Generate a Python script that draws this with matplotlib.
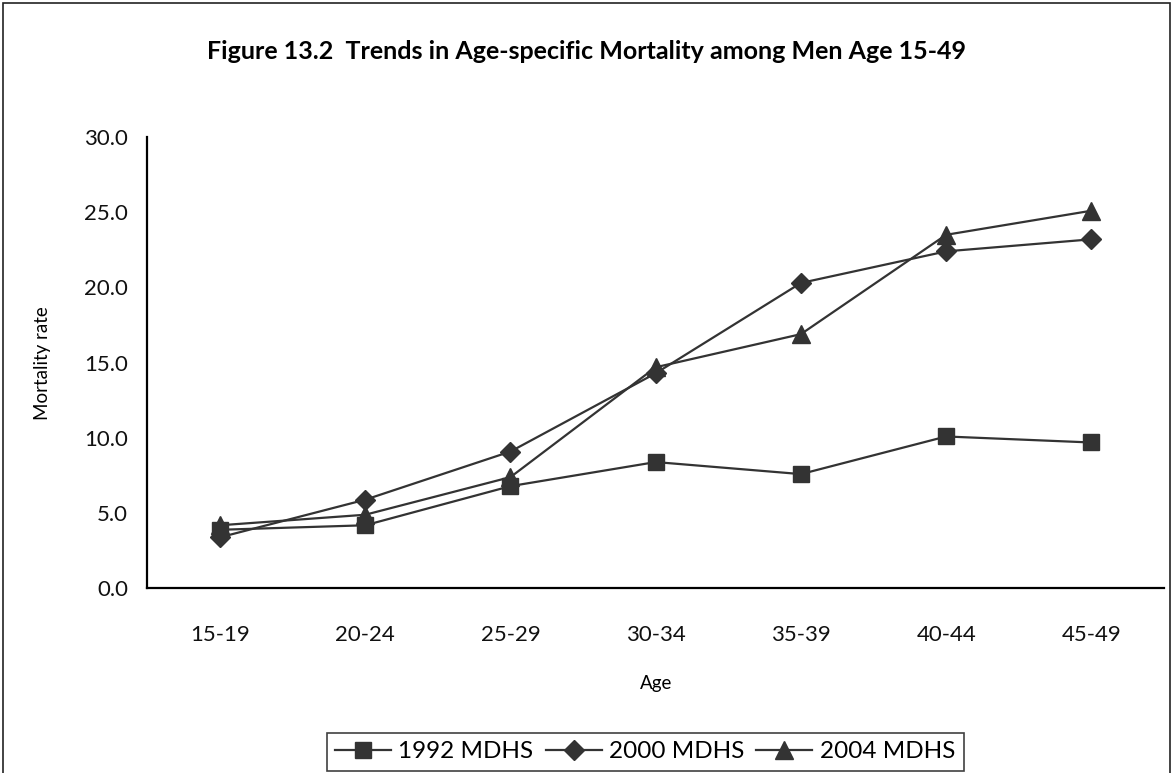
import matplotlib.pyplot as plt
from matplotlib.patches import Rectangle


# 年齡組別
age_groups = ["15-19", "20-24", "25-29", "30-34", "35-39", "40-44", "45-49"]

# 各次調查的死亡率
mdhs_1992 = [3.9, 4.2, 6.8, 8.4, 7.6, 10.1, 9.7]
mdhs_2000 = [3.4, 5.9, 9.1, 14.3, 20.3, 22.4, 23.2]
mdhs_2004 = [4.2, 4.9, 7.4, 14.7, 16.9, 23.5, 25.1]

y_ticks = [0, 5, 10, 15, 20, 25, 30]

TITLE = "Figure 13.2  Trends in Age-specific Mortality among Men Age 15-49"
LINE_COLOR = "#333333"


def plot_chart():
    plt.rcParams["font.family"] = ["Lato", "DejaVu Sans"]

    fig = plt.figure(figsize=(11.73, 7.73), dpi=100)

    # 外框
    frame = Rectangle((3 / 1173, -0.05), 1167 / 1173, 1.05 - 3 / 773,
                      transform=fig.transFigure, fill=False,
                      edgecolor="#222222", linewidth=1.2)
    fig.patches.append(frame)

    ax = fig.add_axes([0.1257, 0.2387, 0.8666, 0.5841])

    x = range(len(age_groups))
    ax.plot(x, mdhs_1992, color=LINE_COLOR, linewidth=1.6,
            marker="s", markersize=11, label="1992 MDHS")
    ax.plot(x, mdhs_2000, color=LINE_COLOR, linewidth=1.6,
            marker="D", markersize=10, label="2000 MDHS")
    ax.plot(x, mdhs_2004, color=LINE_COLOR, linewidth=1.6,
            marker="^", markersize=13, label="2004 MDHS")

    ax.set_xlim(-0.5, len(age_groups) - 0.5)
    ax.set_ylim(0, 30)
    ax.set_xticks(list(x))
    ax.set_xticklabels(age_groups)
    ax.set_yticks(y_ticks)
    ax.set_yticklabels([f"{v:.1f}" for v in y_ticks])
    ax.tick_params(length=0, labelsize=16, colors="#111111")
    ax.tick_params(axis="x", pad=26)
    ax.tick_params(axis="y", pad=14)

    ax.spines["top"].set_visible(False)
    ax.spines["right"].set_visible(False)
    ax.spines["left"].set_linewidth(1.6)
    ax.spines["bottom"].set_linewidth(1.6)

    ax.set_xlabel("Age", fontsize=13.5, labelpad=22)
    ax.set_ylabel("Mortality rate", fontsize=13.5, labelpad=24)

    fig.text(0.5, 0.934, TITLE, ha="center", va="center",
             fontsize=18, fontweight="bold")

    # 圖例
    leg = fig.legend(loc="lower center", bbox_to_anchor=(0.55, 0.003),
                     ncol=3, fontsize=17.5, frameon=True, fancybox=False,
                     edgecolor="#111111", handlelength=2.3,
                     columnspacing=0.5, handletextpad=0.3,
                     borderpad=0.35, borderaxespad=0.0)
    leg.get_frame().set_linewidth(1.2)

    return fig


def main():
    fig = plot_chart()
    fig.savefig("out.png", dpi=100)
    plt.close(fig)


if __name__ == "__main__":
    main()
